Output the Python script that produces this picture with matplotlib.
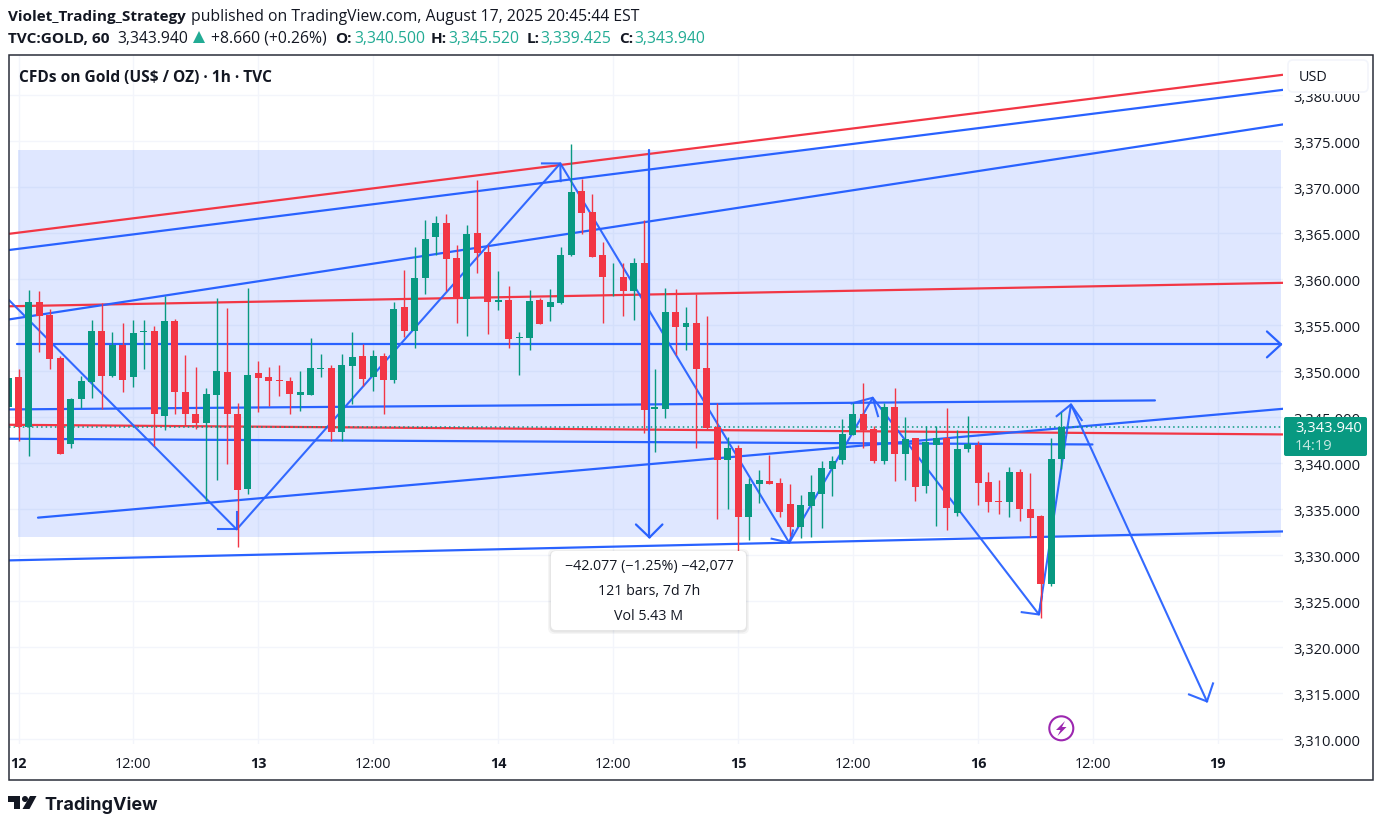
import matplotlib
matplotlib.use("Agg")
import matplotlib.pyplot as plt
from matplotlib.patches import Rectangle, FancyBboxPatch, Polygon, Circle
from matplotlib.transforms import Affine2D

W, H = 1382, 828
UP = "#089981"
DOWN = "#f23645"
BLUE = "#2962ff"
GRID = "#f3f5fb"
TEXT = "#131722"
TEAL = "#22ab94"
FONT = "Open Sans"

# hourly candles, first one is cut off by the left border
first_bar = -1
opens = [3346.1, 3349.4, 3343.9, 3357.5, 3356.1, 3351.4, 3342.1, 3347.0, 3348.8, 3354.4, 3349.5, 3352.9, 3349.4,
         3354.3, 3354.4, 3345.1, 3355.5, 3347.8, 3345.4, 3344.4, 3347.4, 3349.9, 3345.4, 3337.2, 3349.8, 3349.4,
         3349.0, 3348.9, 3347.4, 3347.4, 3350.3, 3350.4, 3343.4, 3350.6, 3351.7, 3349.4, 3351.7, 3349.0, 3357.0,
         3354.4, 3360.1, 3364.6, 3366.1, 3362.3, 3357.9, 3365.0, 3363.0, 3357.5, 3357.8, 3353.6, 3353.6, 3357.7,
         3357.0, 3357.4, 3362.6, 3369.6, 3367.3, 3362.7, 3360.2, 3360.3, 3358.7, 3361.8, 3345.9, 3345.9, 3356.4,
         3354.8, 3355.3, 3350.4, 3343.9, 3340.4, 3341.7, 3334.2, 3337.7, 3338.1, 3337.9, 3335.6, 3333.1, 3335.3,
         3336.7, 3339.4, 3340.3, 3343.1, 3345.3, 3343.7, 3340.2, 3346.1, 3341.0, 3342.7, 3337.5, 3342.0, 3342.7,
         3334.6, 3341.5, 3342.0, 3338.0, 3335.9, 3335.8, 3339.0, 3335.0, 3334.3, 3326.9, 3340.5]
highs = [3349.3, 3350.2, 3358.8, 3358.7, 3356.8, 3351.7, 3347.1, 3349.5, 3355.6, 3357.4, 3354.3, 3355.3, 3355.6,
         3355.6, 3354.9, 3358.2, 3355.7, 3351.8, 3350.5, 3348.2, 3358.0, 3356.9, 3346.5, 3359.1, 3351.1, 3350.5,
         3350.7, 3349.4, 3350.0, 3353.6, 3351.9, 3350.7, 3351.9, 3354.3, 3353.0, 3352.3, 3352.0, 3357.5, 3361.0,
         3363.5, 3366.5, 3366.9, 3367.1, 3363.7, 3365.9, 3370.8, 3363.7, 3360.9, 3359.3, 3354.3, 3358.8, 3358.0,
         3359.0, 3363.5, 3374.7, 3370.9, 3369.3, 3364.1, 3361.8, 3361.8, 3362.3, 3366.4, 3350.3, 3359.1, 3359.0,
         3357.0, 3358.4, 3356.0, 3346.5, 3342.8, 3342.0, 3338.4, 3339.3, 3340.9, 3338.4, 3337.7, 3336.5, 3338.7,
         3340.2, 3340.8, 3344.8, 3346.6, 3348.7, 3344.0, 3346.5, 3348.2, 3345.0, 3342.7, 3344.1, 3344.0, 3346.0,
         3343.6, 3345.1, 3342.4, 3339.0, 3338.2, 3339.6, 3339.4, 3338.9, 3334.4, 3342.7, 3345.52]
lows = [3346.1, 3342.4, 3340.8, 3352.1, 3350.2, 3341.0, 3341.7, 3346.0, 3347.1, 3345.9, 3349.4, 3347.8, 3348.3,
        3350.3, 3341.9, 3343.6, 3345.3, 3344.1, 3343.7, 3335.9, 3338.2, 3339.9, 3330.9, 3336.6, 3345.6, 3346.2,
        3347.3, 3345.3, 3345.7, 3347.4, 3349.4, 3342.4, 3342.4, 3346.4, 3348.4, 3347.9, 3345.3, 3348.7, 3353.7,
        3352.5, 3358.4, 3362.7, 3358.7, 3355.2, 3353.8, 3360.7, 3354.1, 3356.7, 3352.5, 3349.6, 3352.3, 3355.1,
        3355.5, 3357.3, 3362.5, 3364.9, 3362.4, 3355.2, 3358.2, 3356.0, 3355.6, 3343.3, 3341.2, 3344.9, 3351.8,
        3352.3, 3341.7, 3343.6, 3333.9, 3335.0, 3329.5, 3331.6, 3335.7, 3337.7, 3334.2, 3332.1, 3331.9, 3332.0,
        3333.0, 3336.4, 3339.9, 3343.1, 3341.7, 3340.0, 3339.9, 3338.1, 3338.2, 3335.9, 3336.8, 3333.2, 3332.7,
        3334.3, 3341.2, 3335.5, 3334.7, 3334.5, 3334.1, 3333.7, 3332.0, 3323.2, 3326.6, 3339.425]
closes = [3349.3, 3343.9, 3357.5, 3356.0, 3351.3, 3341.0, 3347.0, 3348.9, 3354.4, 3349.5, 3352.9, 3349.1, 3354.2,
          3354.4, 3345.3, 3355.5, 3347.8, 3345.3, 3344.4, 3347.5, 3350.0, 3345.4, 3337.1, 3349.6, 3349.3, 3348.9,
          3348.9, 3347.5, 3347.7, 3350.4, 3350.4, 3343.4, 3350.7, 3351.6, 3349.2, 3351.7, 3349.0, 3356.8, 3354.4,
          3360.1, 3364.4, 3366.1, 3362.2, 3358.0, 3364.9, 3362.9, 3357.5, 3357.8, 3353.5, 3353.7, 3357.6, 3355.1,
          3357.5, 3362.7, 3369.5, 3367.2, 3362.4, 3360.2, 3360.3, 3358.7, 3361.8, 3345.8, 3346.1, 3356.5, 3354.8,
          3355.3, 3350.2, 3343.8, 3340.3, 3341.7, 3334.2, 3337.7, 3338.2, 3337.7, 3334.7, 3333.1, 3335.5, 3336.9,
          3339.5, 3340.2, 3343.2, 3345.3, 3343.6, 3340.2, 3346.1, 3341.0, 3342.6, 3337.4, 3342.3, 3342.7, 3335.1,
          3341.6, 3342.1, 3337.8, 3335.8, 3335.8, 3339.0, 3335.0, 3334.0, 3326.9, 3340.5, 3343.94]

price_ticks = [3310, 3315, 3320, 3325, 3330, 3335, 3340, 3345, 3350, 3355, 3360, 3365, 3370, 3375, 3380]
time_ticks = [0, 11, 23, 34, 46, 57, 69, 80, 92, 103, 115]
time_labels = ["12", "12:00", "13", "12:00", "14", "12:00", "15", "12:00", "16", "12:00", "19"]
day_labels = ["12", "13", "14", "15", "16", "19"]

# price range box
box_x = [-0.05, 121.05]
box_y = [3331.93, 3374.02]

# drawn trend lines as (bar, price, bar, price)
red_lines = [
    (-0.91, 3364.95, 121.24, 3382.25),
    (-0.91, 3357.07, 121.24, 3359.62),
    (-0.91, 3344.18, 121.24, 3343.13),
]
blue_lines = [
    (-0.91, 3363.19, 121.24, 3380.61),
    (-0.91, 3355.64, 121.24, 3376.85),
    (-0.91, 3345.85, 108.96, 3346.83),
    (-0.91, 3342.66, 102.97, 3342.04),
    (1.87, 3334.08, 121.24, 3345.92),
    (-0.91, 3329.43, 121.24, 3332.58),
    (-0.14, 3352.92, 121.05, 3352.92),
    (119.7, 3354.33, 121.05, 3352.92),
    (119.7, 3351.51, 121.05, 3352.92),
    (60.5, 3374.02, 60.5, 3331.93),
    (59.2, 3333.34, 60.5, 3331.93),
    (61.74, 3333.34, 60.5, 3331.93),
]
# zigzag of arrows, with the two arms of the head at each tip
zig_x = [-0.91, 20.92, 51.95, 73.90, 81.90, 97.84, 100.91, 113.95]
zig_y = [3357.74, 3332.80, 3372.61, 3331.35, 3347.12, 3323.55, 3346.39, 3314.09]
arm1_x = [19.13, 50.19, 72.21, 79.88, 96.19, 99.54, 112.23]
arm1_y = [3332.80, 3372.61, 3331.79, 3346.50, 3323.80, 3345.12, 3314.85]
arm2_x = [20.92, 51.98, 74.26, 82.41, 98.13, 101.94, 114.53]
arm2_y = [3334.68, 3370.68, 3332.69, 3345.12, 3325.51, 3344.69, 3316.05]

plt.rcParams["font.family"] = [FONT, "DejaVu Sans"]
fig = plt.figure(figsize=(W / 100, H / 100), dpi=100, facecolor="white")
px = Affine2D().scale(1, -1).translate(0, H)  # pixel positions from top left

# pane goes from x 9 to 1283 and y 56 to 745
ax = fig.add_axes([9 / W, 1 - 745 / H, (1283 - 9) / W, (745 - 56) / H])
ax.set_xlim(-0.911, 121.24)
ax.set_ylim(3309.46, 3384.40)
for s in ax.spines.values():
    s.set_visible(False)

ax.set_yticks(price_ticks)
ax.set_yticklabels([f"{p:,.3f}" for p in price_ticks], fontsize=10.6, color=TEXT)
ax.yaxis.tick_right()
ax.tick_params(axis="y", length=0, pad=7.5)
ax.set_xticks(time_ticks)
ax.set_xticklabels(time_labels, fontsize=10.4, color=TEXT)
ax.tick_params(axis="x", length=0, pad=8.5)
for lab in ax.get_xticklabels():
    if lab.get_text() in day_labels:
        lab.set_fontweight("bold")
ax.grid(True, color=GRID, lw=1)
ax.set_axisbelow(True)

ax.add_patch(Rectangle((box_x[0], box_y[0]), box_x[1] - box_x[0], box_y[1] - box_y[0],
                       facecolor=BLUE, alpha=0.15, edgecolor="none", zorder=1.5))

for x0, y0, x1, y1 in red_lines:
    ax.plot([x0, x1], [y0, y1], color=DOWN, lw=1.6, zorder=3, solid_capstyle="butt")
for x0, y0, x1, y1 in blue_lines:
    ax.plot([x0, x1], [y0, y1], color=BLUE, lw=1.6, zorder=3, solid_capstyle="round")

ax.plot(zig_x, zig_y, color=BLUE, lw=1.5, alpha=0.95, zorder=3)
for i in range(len(arm1_x)):
    ax.plot([arm1_x[i], zig_x[i + 1], arm2_x[i]], [arm1_y[i], zig_y[i + 1], arm2_y[i]],
            color=BLUE, lw=1.5, alpha=0.95, zorder=3)

ax.axhline(closes[-1], color=UP, lw=1.1, ls=(0, (1, 2)), zorder=3.5)

for i in range(len(opens)):
    x = first_bar + i
    col = UP if closes[i] >= opens[i] else DOWN
    ax.vlines(x, lows[i], highs[i], color=col, lw=1, zorder=4)
    ax.bar(x, abs(closes[i] - opens[i]), bottom=min(opens[i], closes[i]), width=0.67,
           color=col, lw=0, zorder=4.5)

# outer frame
fig.add_artist(Rectangle((8.5, 55.5), 1364.5, 725, transform=px, fill=False, edgecolor="#2a2e39",
                         lw=1.1, zorder=3))


def label(x, y, s, **kw):
    kw.setdefault("fontsize", 11.3)
    kw.setdefault("color", TEXT)
    kw.setdefault("va", "center")
    return fig.text(x, y, s, transform=px, zorder=8, **kw)


# header
label(8, 17, "Violet_Trading_Strategy", fontweight="bold", fontsize=11)
label(191, 17, "published on TradingView.com, August 17, 2025 20:45:44 EST")
label(8, 39, "TVC:GOLD, 60", fontweight="bold", fontsize=11.1)
label(117, 39, "3,343.940")
fig.add_artist(Polygon([(193, 44), (205, 44), (199, 32)], transform=px, facecolor=TEAL, edgecolor="none"))
label(211, 39, "+8.660 (+0.26%)")
for x, s in [(335, "O:"), (431, "H:"), (527, "L:"), (619, "C:")]:
    label(x, 39, s, fontweight="bold", fontsize=11)
for x, s in [(354, "3,340.500"), (448, "3,345.520"), (540, "3,339.425"), (634, "3,343.940")]:
    label(x, 39, s, color=TEAL)
label(19, 78, "CFDs on Gold (US$ / OZ) · 1h · TVC", fontweight="bold", fontsize=11.2)

# USD button, it hides the top of the 3,380 label
fig.add_artist(Rectangle((1284, 58), 87, 37, transform=px, facecolor="white", edgecolor="none", zorder=5.5))
fig.add_artist(FancyBboxPatch((1288, 61), 80, 32, boxstyle="round,pad=0,rounding_size=5", transform=px,
                              facecolor="white", edgecolor=GRID, lw=1.2, zorder=6))
label(1299, 78, "USD", fontsize=10.4)

# last price tag
fig.add_artist(FancyBboxPatch((1284, 418), 83, 39, boxstyle="round,pad=0,rounding_size=2", transform=px,
                              facecolor=UP, edgecolor="none", zorder=6))
label(1295, 429, "3,343.940", color="white", fontsize=10.6)
label(1295, 447, "14:19", color="#c8e8e2", fontsize=10.6)

# measure tooltip
for off, a in [(3, 0.04), (1.5, 0.06)]:
    fig.add_artist(FancyBboxPatch((551 - off, 552 - off + 1), 195 + 2 * off, 79 + 2 * off,
                                  boxstyle="round,pad=0,rounding_size=6", transform=px,
                                  facecolor="black", alpha=a, edgecolor="none", zorder=6))
fig.add_artist(FancyBboxPatch((551, 552), 195, 79, boxstyle="round,pad=0,rounding_size=5", transform=px,
                              facecolor="white", edgecolor="none", zorder=6.5))
label(649, 566.5, "−42.077 (−1.25%) −42,077", ha="center", fontsize=10.3)
label(649, 591.5, "121 bars, 7d 7h", ha="center", fontsize=10.3)
label(649, 616.5, "Vol 5.43 M", ha="center", fontsize=10.3)

# lightning icon
fig.add_artist(Circle((1061.3, 729.3), 12, transform=px, facecolor="white", edgecolor="#9c27b0", lw=1.5, zorder=6))
fig.add_artist(Polygon([(1065, 722), (1056, 731), (1060.5, 731), (1057.5, 737), (1066.5, 728), (1062, 728)],
                       transform=px, facecolor="#9c27b0", edgecolor="none", zorder=7))

# TradingView logo
LOGO = "#131722"
fig.add_artist(Polygon([(8, 797), (20, 797), (20, 810), (14, 810), (14, 803), (8, 803)], transform=px,
                       facecolor=LOGO, edgecolor="none"))
fig.add_artist(Circle((25, 800), 3, transform=px, facecolor=LOGO, edgecolor="none"))
fig.add_artist(Polygon([(30, 797), (36.5, 797), (29.5, 810), (22.5, 810)], transform=px,
                       facecolor=LOGO, edgecolor="none"))
label(44, 805, "TradingView", fontsize=13, fontweight="bold", family="Inter", color=LOGO)

fig.savefig("out.png", dpi=100)
